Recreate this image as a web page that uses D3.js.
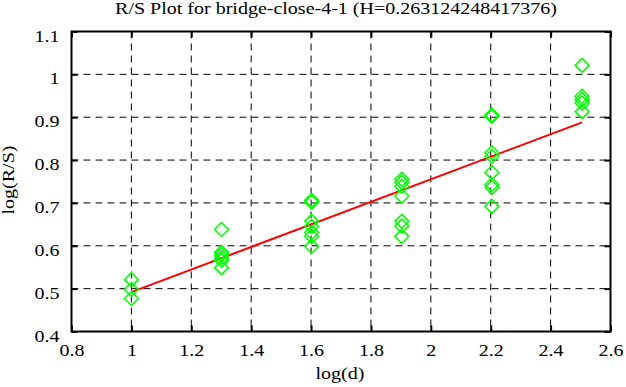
<html>
<head>
<script src="https://d3js.org/d3.v7.min.js"></script>
<style>
body { margin: 0; background: #fff; }
</style>
</head>
<body>
<svg width=626 height=387 font-family="Liberation Serif, Times New Roman, serif" font-size="16"></svg>
<script>
// log(d) for each window size
var logD = [1, 1.30103, 1.60206, 1.90309, 2.20412, 2.50515];

// log(R/S) values read for each window size
var rs10  = [0.521, 0.498, 0.477];
var rs20  = [0.638, 0.585, 0.579, 0.572, 0.566, 0.549];
var rs40  = [0.706, 0.702, 0.657, 0.645, 0.631, 0.622, 0.599];
var rs80  = [0.755, 0.748, 0.739, 0.716, 0.657, 0.646, 0.622];
var rs160 = [0.905, 0.902, 0.817, 0.809, 0.771, 0.743, 0.736, 0.692];
var rs320 = [1.021, 0.949, 0.941, 0.933, 0.913];

// fitted line end points
var fitX = [1, 2.50515];
var fitY = [0.492, 0.888];

var xTicks = [0.8, 1, 1.2, 1.4, 1.6, 1.8, 2, 2.2, 2.4, 2.6];
var yTicks = [0.4, 0.5, 0.6, 0.7, 0.8, 0.9, 1, 1.1];

var title = "R/S Plot for bridge-close-4-1 (H=0.263124248417376)";

var groups = [rs10, rs20, rs40, rs80, rs160, rs320];
var points = [];
groups.forEach(function (g, i) {
  g.forEach(function (v) { points.push({x: logD[i], y: v}); });
});

var pLeft = 71.5, pRight = 610.5, pTop = 31.5, pBottom = 331.5;

var x = d3.scaleLinear().domain([0.8, 2.6]).range([pLeft, pRight]);
var y = d3.scaleLinear().domain([0.4, 1.1]).range([pBottom, pTop]);

var svg = d3.select("svg");

// the original font is a wide bitmap Times, so widen the glyphs a bit
function stretch(sel) {
  sel.each(function () {
    var len = this.getComputedTextLength();
    d3.select(this).attr("textLength", len * 1.25).attr("lengthAdjust", "spacingAndGlyphs");
  });
}

// grid
var grid = svg.append("g")
  .attr("stroke", "#000")
  .attr("stroke-width", 1)
  .attr("stroke-dasharray", "7,5");
grid.selectAll(".gx")
  .data(xTicks.slice(1, -1))
  .enter().append("line")
  .attr("x1", function (d) { return x(d); })
  .attr("x2", function (d) { return x(d); })
  .attr("y1", pTop).attr("y2", pBottom);
grid.selectAll(".gy")
  .data(yTicks.slice(1, -1))
  .enter().append("line")
  .attr("y1", function (d) { return y(d); })
  .attr("y2", function (d) { return y(d); })
  .attr("x1", pLeft).attr("x2", pRight);

// axes, ticks pointing inwards on all four sides
function styleAxis(g) {
  g.attr("font-family", "Liberation Serif, Times New Roman, serif").attr("font-size", 16);
  g.select(".domain").remove();
  g.selectAll(".tick line").attr("stroke", "#000").attr("stroke-width", 2);
  g.selectAll(".tick text").attr("fill", "#000");
}

svg.append("g")
  .attr("transform", "translate(0," + pBottom + ")")
  .call(d3.axisBottom(x).tickValues(xTicks).tickSize(-6).tickFormat(d3.format("~g")))
  .call(styleAxis)
  .selectAll("text").attr("y", 13).attr("dy", "0.71em").call(stretch);

svg.append("g")
  .attr("transform", "translate(0," + pTop + ")")
  .call(d3.axisTop(x).tickValues(xTicks).tickSize(-6).tickFormat(""))
  .call(styleAxis);

svg.append("g")
  .attr("transform", "translate(" + pLeft + ",0)")
  .call(d3.axisLeft(y).tickValues(yTicks).tickSize(-6).tickFormat(d3.format("~g")))
  .call(styleAxis)
  .selectAll("text").attr("x", -12).attr("dy", "0.6em").call(stretch);

svg.append("g")
  .attr("transform", "translate(" + pRight + ",0)")
  .call(d3.axisRight(y).tickValues(yTicks).tickSize(-6).tickFormat(""))
  .call(styleAxis);

// fitted line
svg.append("path")
  .datum(d3.range(fitX.length))
  .attr("fill", "none")
  .attr("stroke", "#ff0000")
  .attr("stroke-width", 2)
  .attr("d", d3.line()
    .x(function (i) { return x(fitX[i]); })
    .y(function (i) { return y(fitY[i]); }));

// diamonds
svg.append("g")
  .selectAll("path")
  .data(points)
  .enter().append("path")
  .attr("fill", "none")
  .attr("stroke", "#00ff00")
  .attr("stroke-width", 1.5)
  .attr("d", function (d) {
    var cx = x(d.x), cy = y(d.y), r = 7;
    return "M" + cx + "," + (cy - r) + "L" + (cx + r) + "," + cy +
      "L" + cx + "," + (cy + r) + "L" + (cx - r) + "," + cy + "Z";
  });

// frame
svg.append("rect")
  .attr("x", pLeft).attr("y", pTop)
  .attr("width", pRight - pLeft).attr("height", pBottom - pTop)
  .attr("fill", "none").attr("stroke", "#000").attr("stroke-width", 2);

// labels
svg.append("text")
  .attr("x", 336).attr("y", 14)
  .attr("text-anchor", "middle")
  .text(title)
  .call(stretch);

svg.append("text")
  .attr("x", 340).attr("y", 379)
  .attr("text-anchor", "middle")
  .text("log(d)")
  .call(stretch);

svg.append("text")
  .attr("transform", "translate(14,180) rotate(-90)")
  .attr("text-anchor", "middle")
  .text("log(R/S)")
  .call(stretch);
</script>
</body>
</html>
